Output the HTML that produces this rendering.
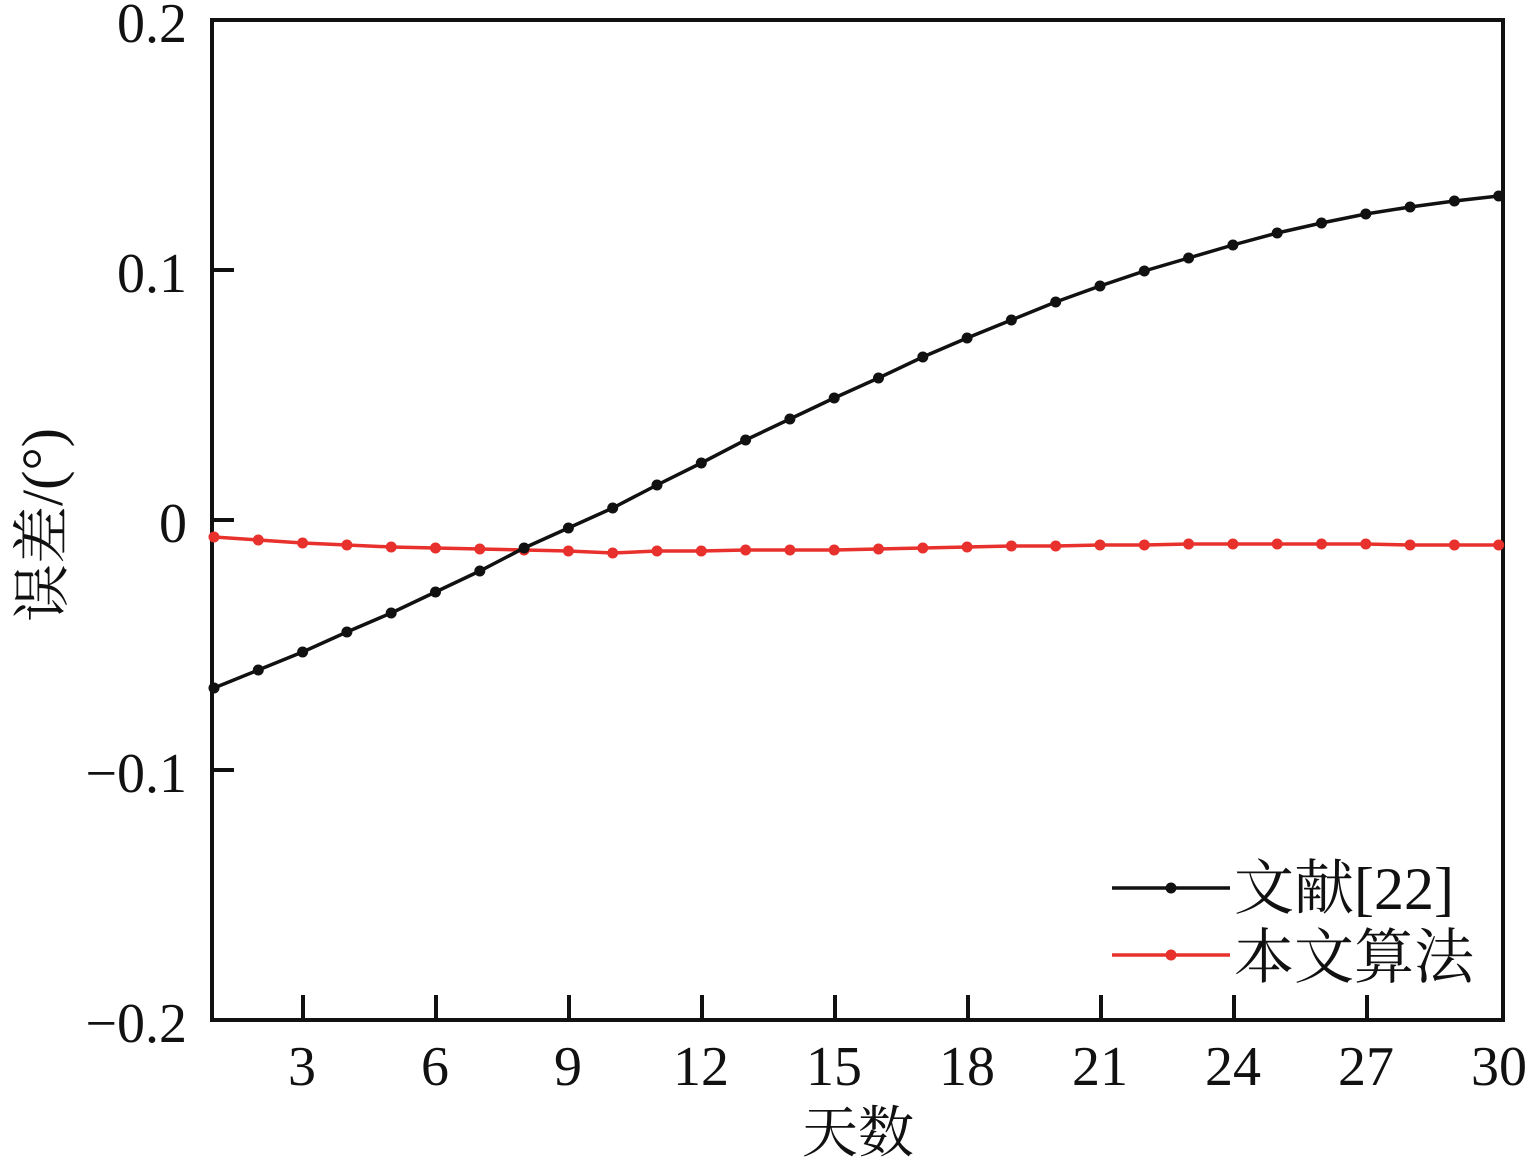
<!DOCTYPE html>
<html><head><meta charset="utf-8"><style>body{margin:0;background:#fff}</style></head><body>
<svg width="1531" height="1161" xmlns="http://www.w3.org/2000/svg">
<defs>
<marker id="mb" markerWidth="12" markerHeight="12" refX="6" refY="6" markerUnits="userSpaceOnUse"><circle cx="6" cy="6" r="5.5" fill="#111"/></marker>
<marker id="mr" markerWidth="12" markerHeight="12" refX="6" refY="6" markerUnits="userSpaceOnUse"><circle cx="6" cy="6" r="5.5" fill="#e8302c"/></marker>
</defs>
<rect width="1531" height="1161" fill="#fff"/>
<g font-family="Liberation Serif, serif" font-size="56" fill="#111">
<text x="187" y="42" text-anchor="end">0.2</text>
<text x="187" y="292" text-anchor="end">0.1</text>
<text x="187" y="542" text-anchor="end">0</text>
<text x="187" y="792" text-anchor="end">−0.1</text>
<text x="187" y="1042" text-anchor="end">−0.2</text>
<g text-anchor="middle">
<text x="302" y="1085">3</text><text x="435" y="1085">6</text><text x="568" y="1085">9</text>
<text x="701" y="1085">12</text><text x="834" y="1085">15</text><text x="967" y="1085">18</text>
<text x="1100" y="1085">21</text><text x="1233" y="1085">24</text><text x="1366" y="1085">27</text>
<text x="1499" y="1085">30</text></g>
</g>
<text x="858" y="1152" text-anchor="middle" font-family="Liberation Serif, Noto Serif CJK SC, serif" font-size="56" fill="#111">天数</text>
<text transform="translate(62,525) rotate(-90)" text-anchor="middle" font-family="Liberation Serif, Noto Serif CJK SC, serif" font-size="58" fill="#111">误差/(°)</text>
<g stroke="#111" stroke-width="4" fill="none">
<rect x="212" y="20" width="1291" height="1000"/>
<path d="M212 270h22M212 520h22M212 770h22"/>
<path d="M303 1020v-25M436 1020v-25M569 1020v-25M702 1020v-25M835 1020v-25M968 1020v-25M1101 1020v-25M1234 1020v-25M1367 1020v-25"/>
</g>
<polyline fill="none" stroke="#e8302c" stroke-width="3.5" marker-start="url(#mr)" marker-mid="url(#mr)" marker-end="url(#mr)" points="214,537 258.3,540 302.6,543 346.9,545 391.2,547 435.5,548 479.8,549 524.1,550 568.4,551 612.7,553 657,551 701.3,551 745.6,550 789.9,550 834.2,550 878.5,549 922.8,548 967.1,547 1011.4,546 1055.7,546 1100,545 1144.3,545 1188.6,544 1232.9,544 1277.2,544 1321.5,544 1365.8,544 1410.1,545 1454.4,545 1498.7,545"/>
<polyline fill="none" stroke="#111" stroke-width="3.5" marker-start="url(#mb)" marker-mid="url(#mb)" marker-end="url(#mb)" points="214,688 258.3,670 302.6,652 346.9,632 391.2,613 435.5,592 479.8,571 524.1,548 568.4,528 612.7,508 657,485 701.3,463 745.6,440 789.9,419 834.2,398 878.5,378 922.8,357 967.1,338 1011.4,320 1055.7,302 1100,286 1144.3,271 1188.6,258 1232.9,245 1277.2,233 1321.5,223 1365.8,214 1410.1,207 1454.4,201 1498.7,196"/>
<line x1="1112" y1="888" x2="1230" y2="888" stroke="#111" stroke-width="3.5"/><circle cx="1171" cy="888" r="5.5" fill="#111"/>
<line x1="1112" y1="955" x2="1230" y2="955" stroke="#e8302c" stroke-width="3.5"/><circle cx="1171" cy="955" r="5.5" fill="#e8302c"/>
<g font-family="Liberation Serif, Noto Serif CJK SC, serif" font-size="60" fill="#111">
<text x="1234" y="909">文献[22]</text><text x="1234" y="978">本文算法</text></g>
</svg>
</body></html>
